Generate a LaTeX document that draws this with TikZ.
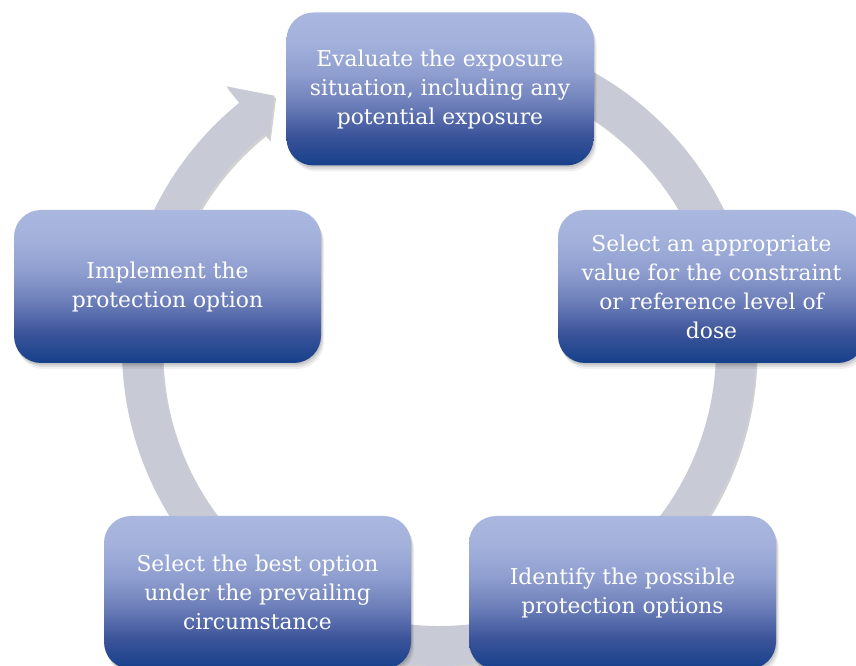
\documentclass[tikz,border=0pt]{standalone}
\usepackage{fontspec}
\setmainfont{DejaVu Serif}
\usetikzlibrary{shadows}
\definecolor{ringgray}{RGB}{200,203,213}
\definecolor{boxtop}{RGB}{170,184,224}
\definecolor{boxupper}{RGB}{162,176,219}
\definecolor{boxmidup}{RGB}{143,158,207}
\definecolor{boxmid}{RGB}{108,126,185}
\definecolor{boxlow}{RGB}{60,84,154}
\definecolor{boxbot}{RGB}{22,64,138}
% vertical fill of the stages: light at the top, deep blue at the bottom
\pgfdeclareverticalshading{stageshade}{100bp}{color(0bp)=(boxbot); color(25bp)=(boxbot);
  color(35bp)=(boxlow); color(45bp)=(boxmid); color(55bp)=(boxmidup);
  color(65bp)=(boxupper); color(75bp)=(boxtop); color(100bp)=(boxtop)}
\tikzset{
  stage/.style={rectangle, rounded corners=27pt,
    minimum width=307pt, minimum height=153pt, inner sep=0pt,
    shading=stageshade,
    text=white, align=center, font=\fontsize{21.8}{29}\selectfont,
    drop shadow={shadow xshift=1pt, shadow yshift=-2pt, opacity=.10, fill=black},
    drop shadow={shadow xshift=2pt, shadow yshift=-4pt, opacity=.08, fill=black},
    drop shadow={shadow xshift=3pt, shadow yshift=-6pt, opacity=.06, fill=black}},
  ringfill/.style={fill=ringgray},
  ringshadow/.style={fill=black, opacity=.18}
}
\begin{document}
\begin{tikzpicture}[x=1pt,y=1pt]
\useasboundingbox (0,0) rectangle (856,666);
% circular arrow behind the stages
\begin{scope}[shift={(439,317)}]
  \path[ringshadow, transform canvas={xshift=1.5pt,yshift=-2.5pt}]
    (115:317) arc[start angle=115, end angle=-231, radius=317]
    -- (129:338) -- (123:302) -- (129:270) -- (-231:277)
    arc[start angle=-231, end angle=115, radius=277] -- cycle;
  \path[ringfill]
    (115:317) arc[start angle=115, end angle=-231, radius=317]
    -- (129:338) -- (123:302) -- (129:270) -- (-231:277)
    arc[start angle=-231, end angle=115, radius=277] -- cycle;
\end{scope}
% the five stages
\node[stage] (evaluate) at (440,577) {\raisebox{-3pt}{\parbox{300pt}{\centering Evaluate the exposure\\situation, including any\\potential exposure}}};
\node[stage] (select) at (711.5,379.5) {Select an appropriate\\value for the constraint\\or reference level of\\dose};
\node[stage] (identify) at (622.5,73.5) {Identify the possible\\protection options};
\node[stage] (best) at (257.5,73.5) {Select the best option\\under the prevailing\\circumstance};
\node[stage] (implement) at (167.5,379.5) {Implement the\\protection option};
\end{tikzpicture}
\end{document}
